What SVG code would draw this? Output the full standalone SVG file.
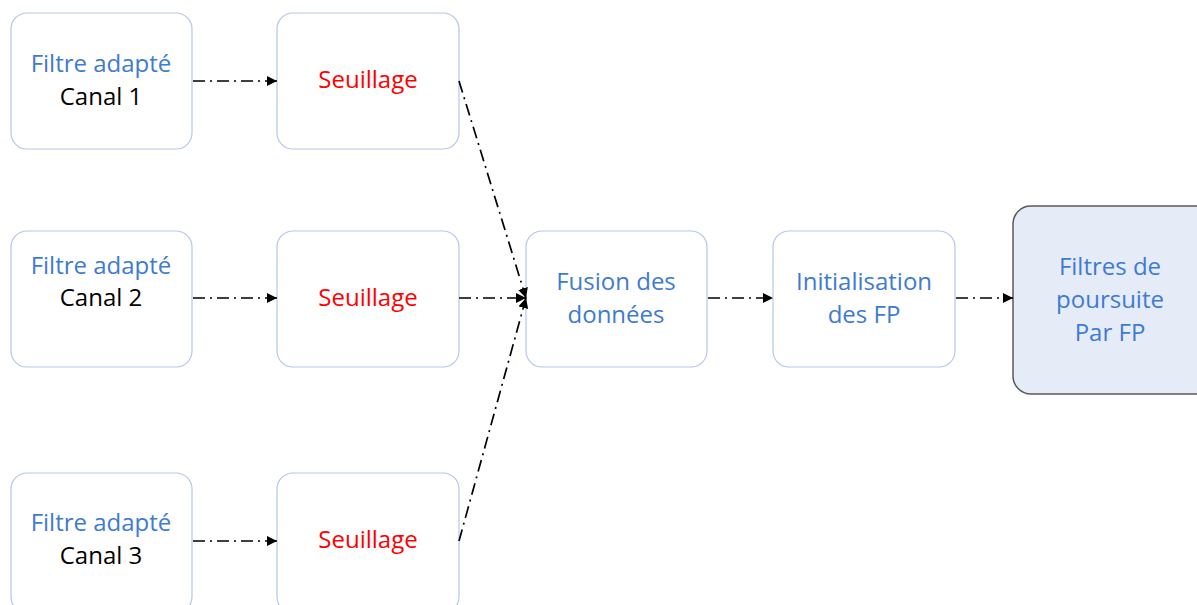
<svg xmlns="http://www.w3.org/2000/svg" width="1197" height="605" viewBox="0 0 1197 605">
<defs>
<marker id="ah" viewBox="0 0 10 10" refX="10" refY="5" markerWidth="10" markerHeight="10" markerUnits="userSpaceOnUse" orient="auto">
<path d="M0,0 L10,5 L0,10 z" fill="#000"/>
</marker>
</defs>
<style>
.box{fill:#fff;stroke:#B4C7E7;stroke-width:1.2}
.dark{fill:#E6ECF7;stroke:#595959;stroke-width:1.5}
text{font-family:"Open Sans","Liberation Sans",sans-serif;font-size:24px;text-anchor:middle}
.b{fill:#3E7BD2}
.k{fill:#000}
.r{fill:#FF0000}
.c{fill:none;stroke:#000;stroke-width:1.7;stroke-dasharray:12 5 2 5;marker-end:url(#ah)}
</style>
<rect width="1197" height="605" fill="#fff"/>
<g id="filtre1"><rect class="box" x="11" y="13" width="181" height="136" rx="16"/><text class="b" x="101" y="72">Filtre adapté</text><text class="k" x="101" y="105">Canal 1</text></g>
<g id="seuil1"><rect class="box" x="277" y="13" width="182" height="136" rx="16"/><text class="r" x="368" y="88">Seuillage</text></g>
<g id="filtre2"><rect class="box" x="11" y="231" width="181" height="136" rx="16"/><text class="b" x="101" y="274">Filtre adapté</text><text class="k" x="101" y="306">Canal 2</text></g>
<g id="seuil2"><rect class="box" x="277" y="231" width="182" height="136" rx="16"/><text class="r" x="368" y="306">Seuillage</text></g>
<g id="filtre3"><rect class="box" x="11" y="473" width="181" height="140" rx="16"/><text class="b" x="101" y="531">Filtre adapté</text><text class="k" x="101" y="564">Canal 3</text></g>
<g id="seuil3"><rect class="box" x="277" y="473" width="182" height="140" rx="16"/><text class="r" x="368" y="548">Seuillage</text></g>
<g id="fusion"><rect class="box" x="526" y="231" width="181" height="136" rx="16"/><text class="b" x="616" y="290">Fusion des</text><text class="b" x="616" y="323">données</text></g>
<g id="init"><rect class="box" x="773" y="231" width="182" height="136" rx="16"/><text class="b" x="864" y="290">Initialisation</text><text class="b" x="864" y="323">des FP</text></g>
<g id="poursuite"><rect class="dark" x="1013" y="206" width="200" height="188" rx="18"/><text class="b" x="1110" y="275">Filtres de</text><text class="b" x="1110" y="308">poursuite</text><text class="b" x="1110" y="341">Par FP</text></g>
<g id="connectors">
<line class="c" x1="193" y1="81" x2="277" y2="81"/>
<line class="c" x1="193" y1="298" x2="277" y2="298"/>
<line class="c" x1="193" y1="541" x2="277" y2="541"/>
<line class="c" x1="459" y1="81" x2="526" y2="298"/>
<line class="c" x1="459" y1="298" x2="526" y2="298"/>
<line class="c" x1="459" y1="541" x2="526" y2="298"/>
<line class="c" x1="708" y1="298" x2="773" y2="298"/>
<line class="c" x1="956" y1="298" x2="1013" y2="298"/>
</g>
</svg>
